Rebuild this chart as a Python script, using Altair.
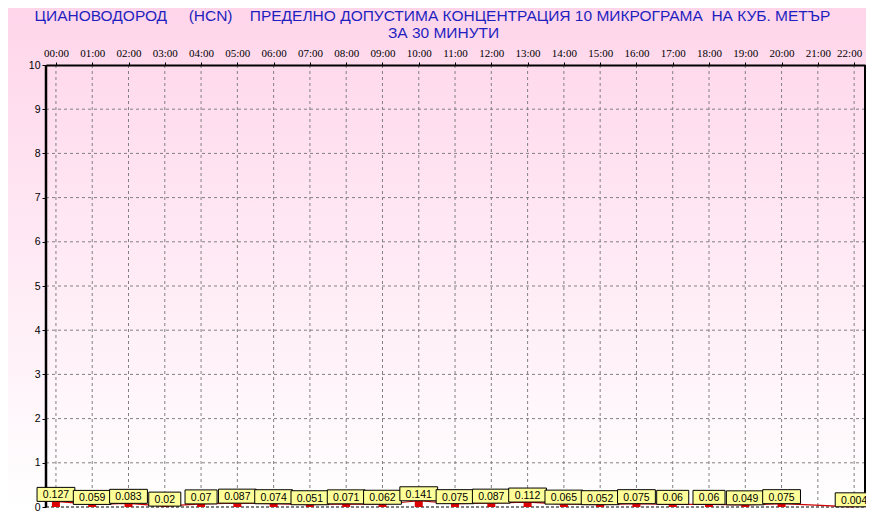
import json
import altair as alt
import pandas as pd

# ---------------- data ----------------
title_lines = [
    "ЦИАНОВОДОРОД     (HCN)    ПРЕДЕЛНО ДОПУСТИМА КОНЦЕНТРАЦИЯ 10 МИКРОГРАМА  НА КУБ. МЕТЪР",
    "ЗА 30 МИНУТИ",
]
hours = list(range(23))
hour_labels = ["%02d:00" % h for h in hours]
values = [0.127, 0.059, 0.083, 0.02, 0.07, 0.087, 0.074, 0.051, 0.071, 0.062,
          0.141, 0.075, 0.087, 0.112, 0.065, 0.052, 0.075, 0.06, 0.06, 0.049,
          0.075, None, 0.004]
value_labels = ["0.127", "0.059", "0.083", "0.02", "0.07", "0.087", "0.074", "0.051",
                "0.071", "0.062", "0.141", "0.075", "0.087", "0.112", "0.065", "0.052",
                "0.075", "0.06", "0.06", "0.049", "0.075", None, "0.004"]
y_ticks = list(range(11))

# ---------------- layout ----------------
W, H = 819, 442
PX_PER_HOUR = 36.73
X0 = 5  # pixel offset of 00:00 from the left edge of the plot
x_domain = [-X0 / PX_PER_HOUR, (W - X0) / PX_PER_HOUR]
px_per_unit = H / 10.0

df = pd.DataFrame({"hour": hours, "value": values, "label": value_labels}).dropna()
grid_x = pd.DataFrame({"hour": hours})
grid_y = pd.DataFrame({"y": y_ticks[1:-1]})

xs = alt.Scale(domain=x_domain, nice=False, zero=False)
ys = alt.Scale(domain=[0, 10], nice=False, zero=True)

label_expr = json.dumps(hour_labels) + "[datum.value]"
x_axis = alt.Axis(orient="top", values=hours, labelExpr=label_expr, grid=False,
                  domainColor="black", domainWidth=2, tickColor="black", tickSize=3,
                  labelPadding=4, labelFontSize=11, labelFont="Liberation Sans Narrow",
                  labelColor="black", title=None, zindex=1, labelFlush=False, labelOverlap=False,
                  labelOffset={"condition": {"test": "datum.value == 22", "value": -5}, "value": 0})
y_axis = alt.Axis(orient="left", values=y_ticks, grid=False, domain=False,
                  tickColor="black", tickSize=4, labelPadding=2,
                  labelFontSize=10.5, labelFont="Liberation Sans", labelColor="black",
                  title=None, zindex=1)

X = lambda f: alt.X(f, scale=xs, axis=x_axis)
Y = lambda f: alt.Y(f, scale=ys, axis=y_axis)

one = pd.DataFrame({"a": [0]})

bg = alt.Chart(one).mark_rect(
    clip=False,
    color=alt.Gradient(gradient="linear", x1=0, x2=0, y1=0, y2=1,
                       stops=[alt.GradientStop(color="#FFD5EA", offset=0),
                              alt.GradientStop(color="#FFFFFF", offset=1)]),
).encode(x=alt.value(-38), x2=alt.value(W + 1), y=alt.value(-57), y2=alt.value(H + 3))

vgrid = alt.Chart(grid_x).mark_rule(color="#808080", strokeDash=[3, 3], strokeWidth=1).encode(
    x=X("hour:Q"), y=alt.value(0), y2=alt.value(H))

hgrid = alt.Chart(grid_y).mark_rule(color="#808080", strokeDash=[3, 3], strokeWidth=1).encode(
    y=Y("y:Q"), x=alt.value(0), x2=alt.value(W))

bottom = alt.Chart(one).mark_rule(color="black", strokeDash=[3, 2], strokeWidth=1).encode(
    y=alt.value(H), x=alt.value(0), x2=alt.value(W))

right = alt.Chart(one).mark_rule(color="black", strokeWidth=2).encode(
    x=alt.value(W), y=alt.value(0), y2=alt.value(H))

left = alt.Chart(one).mark_rule(color="black", strokeWidth=2.5).encode(
    x=alt.value(0), y=alt.value(0), y2=alt.value(H))

line = alt.Chart(df).mark_line(color="#CC0000", strokeWidth=1.2).encode(
    x=X("hour:Q"), y=Y("value:Q"))

bars = alt.Chart(df).mark_bar(color="#DD0000", size=8).encode(
    x=X("hour:Q"), y=Y("value:Q"), y2=alt.datum(0))

box_h = 14 / px_per_unit
boxes = alt.Chart(df).transform_calculate(
    bw="((length(datum.label) - 1) * 5.84 + 2.92 + 12) / %f" % PX_PER_HOUR,
    x_lo="datum.hour - datum.bw / 2",
    x_hi="datum.hour + datum.bw / 2",
    y_hi="datum.value + %f" % box_h,
).mark_rect(fill="#FFFF99", stroke="black", strokeWidth=1, clip=False).encode(
    x=X("x_lo:Q"), x2="x_hi:Q", y=Y("value:Q"), y2="y_hi:Q")

texts = alt.Chart(df).mark_text(
    font="Liberation Sans", fontSize=10.5, color="black", align="center",
    baseline="alphabetic", dy=-3, clip=False,
).encode(x=X("hour:Q"), y=Y("value:Q"), text="label:N")

def nb(s):
    return s.replace(" ", "\u00a0")

t1 = alt.Chart(pd.DataFrame({"t": [nb(title_lines[0])]})).mark_text(
    font="Liberation Sans", fontSize=15.5, color="#1F1FBF", align="center", baseline="alphabetic"
).encode(text="t:N", x=alt.value(386.5), y=alt.value(-44.5))
t2 = alt.Chart(pd.DataFrame({"t": [nb(title_lines[1])]})).mark_text(
    font="Liberation Sans", fontSize=15.5, color="#1F1FBF", align="center", baseline="alphabetic"
).encode(text="t:N", x=alt.value(397.5), y=alt.value(-27.5))

chart = alt.layer(
    bg, vgrid, hgrid, bottom, right, left, line, bars, boxes, texts, t1, t2
).properties(
    width=W, height=H,
    autosize=alt.AutoSizeParams(type="none"),
    padding={"left": 38, "top": 57, "right": 1, "bottom": 4},
).configure_view(stroke=None).configure(background="white")

chart.save("out.html", embed_options={"renderer": "svg", "actions": False})
